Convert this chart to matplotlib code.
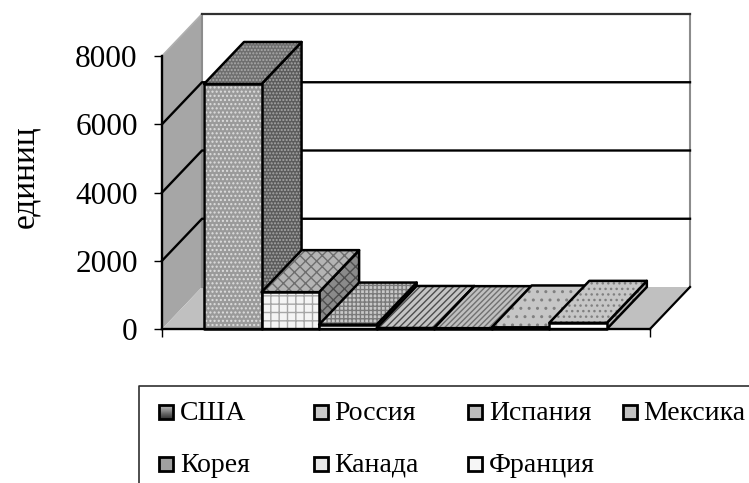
import numpy as np
import matplotlib
matplotlib.use("Agg")
import matplotlib.pyplot as plt
from matplotlib.patches import Polygon, Rectangle

# ===== DATA =====
countries = ["США", "Россия", "Испания", "Мексика", "Корея", "Канада", "Франция"]
units = [7180, 1080, 130, 30, 25, 45, 180]
y_ticks = [0, 2000, 4000, 6000, 8000]
y_label = "единиц"

# ===== STYLE =====
W, H = 749, 483
plt.rcParams["font.family"] = ["Liberation Serif", "DejaVu Serif"]
plt.rcParams["hatch.linewidth"] = 1.0

# (face colour, hatch colour, hatch) for front, side, top of each bar
bar_styles = [
    (("#9a9a9a", "#dedede", "...."), ("#5c5c5c", "#a8a8a8", "....."), ("#6e6e6e", "#aaaaaa", ".....")),
    (("#f4f4f4", "#a6a6a6", "++"), ("#8a8a8a", "#4e4e4e", "xxx"), ("#b4b4b4", "#6e6e6e", "xxx")),
    (("#ffffff", "#a0a0a0", "...."), ("#8a8a8a", "#4e4e4e", "xxx"), ("#c8c8c8", "#7a7a7a", "++++")),
    (("#b8b8b8", "#444444", "...."), ("#808080", "#444444", "...."), ("#c4c4c4", "#4c4c4c", "/////")),
    (("#a8a8a8", "#666666", "||||"), ("#8c8c8c", "#555555", "||||"), ("#c0c0c0", "#707070", "//////")),
    (("#ffffff", "#a0a0a0", ".."), ("#9a9a9a", "#666666", ".."), ("#c6c6c6", "#808080", "..")),
    (("#ffffff", "#e0e0e0", "."), ("#b0b0b0", "#808080", ".."), ("#c6c6c6", "#808080", "...")),
]
legend_colors = ["#7a7a7a", "#c8c8c8", "#bbbbbb", "#c0c0c0", "#a0a0a0", "#e8e8e8", "#f6f6f6"]

# plot box in pixels (front plane)
px_left, px_right, px_bottom, px_top = 162, 650, 329, 56
x_min, x_max = -1.23, 7.25
y_max = 8000
x_scale = (x_max - x_min) / (px_right - px_left)
y_scale = y_max / (px_bottom - px_top)
depth_x = 40 * x_scale
depth_y = 42 * y_scale
bar_w = 1.0

fig = plt.figure(figsize=(W / 100, H / 100), dpi=100)
ax = fig.add_axes([px_left / W, 1 - px_bottom / H, (px_right - px_left) / W, (px_bottom - px_top) / H])
ax.set_xlim(x_min, x_max)
ax.set_ylim(0, y_max)
ax.patch.set_visible(False)


def add_face(points, style, z):
    face, hatch_color, hatch = style
    ax.add_patch(Polygon(points, closed=True, facecolor=face, edgecolor=hatch_color,
                         hatch=hatch, lw=0, clip_on=False, zorder=z))
    ax.add_patch(Polygon(points, closed=True, fill=False, edgecolor="black",
                         lw=1.8, joinstyle="round", clip_on=False, zorder=z + 0.1))


# === WALLS ===
ax.add_patch(Polygon([(x_min, 0), (x_min, y_max), (x_min + depth_x, y_max + depth_y), (x_min + depth_x, depth_y)],
                     closed=True, facecolor="#a6a6a6", edgecolor="none", clip_on=False, zorder=1))
ax.add_patch(Polygon([(x_min, 0), (x_max, 0), (x_max + depth_x, depth_y), (x_min + depth_x, depth_y)],
                     closed=True, facecolor="#c0c0c0", edgecolor="none", clip_on=False, zorder=1))
ax.plot([x_min + depth_x] * 2, [depth_y, y_max + depth_y], color="#8c8c8c", lw=1.5, clip_on=False, zorder=1.5)
ax.plot([x_max + depth_x] * 2, [depth_y, y_max + depth_y], color="#8c8c8c", lw=1.5, clip_on=False, zorder=1.5)
ax.plot([x_min, x_min + depth_x], [y_max, y_max + depth_y], color="#b0b0b0", lw=1.2, clip_on=False, zorder=1.5)
ax.plot([x_min + depth_x, x_max + depth_x], [y_max + depth_y] * 2, color="#303030", lw=1.6, clip_on=False, zorder=1.5)
ax.plot([x_max, x_max + depth_x], [0, depth_y], color="black", lw=1.6, clip_on=False, zorder=1.6)

for v in y_ticks[1:-1]:
    ax.plot([x_min, x_min + depth_x, x_max + depth_x], [v, v + depth_y, v + depth_y],
            color="black", lw=1.7, clip_on=False, zorder=1.6)

# === BARS, left to right so the bar on the right overlaps the side before it ===
for i, v in enumerate(units):
    x0, x1 = i - 0.5, i - 0.5 + bar_w
    z = 3 + i
    front, side, top = bar_styles[i]
    add_face([(x1, 0), (x1 + depth_x, depth_y), (x1 + depth_x, v + depth_y), (x1, v)], side, z)
    add_face([(x0, v), (x1, v), (x1 + depth_x, v + depth_y), (x0 + depth_x, v + depth_y)], top, z + 0.2)
    add_face([(x0, 0), (x1, 0), (x1, v), (x0, v)], front, z + 0.4)

# === AXES ===
ax.spines["top"].set_visible(False)
ax.spines["right"].set_visible(False)
ax.spines["left"].set_linewidth(1.7)
ax.spines["bottom"].set_linewidth(1.7)
ax.spines["left"].set_zorder(20)
ax.spines["bottom"].set_zorder(20)
ax.set_yticks(y_ticks)
ax.set_xticks([x_min, x_max])
ax.set_xticklabels([])
ax.tick_params(axis="y", length=5.5, width=1, labelsize=22.5, pad=12)
ax.tick_params(axis="x", length=6, width=1)
fig.text(25 / W, 1 - 177 / H, y_label, rotation=90, fontsize=24, ha="center", va="center")

# === LEGEND ===
lax = fig.add_axes([0, 0, 1, 1])
lax.set_xlim(0, W)
lax.set_ylim(H, 0)
lax.axis("off")
lax.plot([139, 139, W], [H, 386, 386], color="#303030", lw=1.2, clip_on=False)
n_cols = 4
for i, name in enumerate(countries):
    col, row = i % n_cols, i // n_cols
    mx = 159 + 154.5 * col
    my = 405 + 52 * row
    if i == 0:
        grad = np.linspace(0.75, 0.2, 12).reshape(-1, 1)
        lax.imshow(grad, cmap="gray", vmin=0, vmax=1, extent=(mx, mx + 14, my + 14, my), aspect="auto", zorder=2)
    else:
        lax.add_patch(Rectangle((mx, my), 14, 14, facecolor=legend_colors[i], edgecolor="none", zorder=2))
    lax.add_patch(Rectangle((mx, my), 14, 14, fill=False, edgecolor="black", lw=2, zorder=3))
    lax.text(mx + 21, my + 8, name, fontsize=20, ha="left", va="center")
lax.set_xlim(0, W)
lax.set_ylim(H, 0)

fig.savefig("out.png", dpi=100, facecolor="white")
